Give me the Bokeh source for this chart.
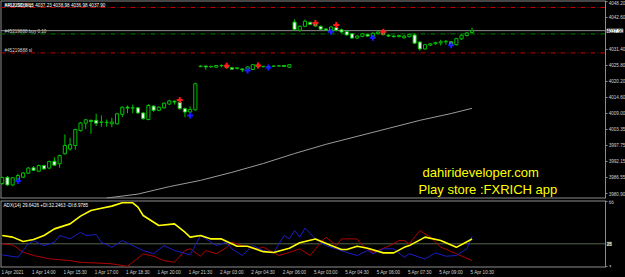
from bokeh.plotting import figure
from bokeh.models import (Range1d, FixedTicker, Label, ColumnDataSource,
                          PrintfTickFormatter, LinearAxis)
from bokeh.layouts import column
from bokeh.embed import file_html
from bokeh.resources import INLINE

# ---------------- data (M15 candles, index 0..90) ----------------
opens = [3984.4, 3986.6, 3983.9, 3985.8, 3986.6, 3988.0, 3989.9, 3988.7, 3990.7, 3989.8,
         3992.2, 3991.3, 3994.8, 3996.5, 3997.7, 4002.9, 4005.5, 4006.5, 4006.5, 4005.8,
         4005.7, 4005.3, 4005.3, 4008.6, 4011.1, 4010.8, 4010.9, 4009.1, 4006.8, 4011.5,
         4010.0, 4010.9, 4012.2, 4013.2, 4012.9, 4010.6, 4009.4, 4010.2,
         4025.3, 4025.5, 4025.2, 4025.1, 4025.6, 4025.8, 4024.9, 4024.6, 4024.5, 4024.4,
         4024.3, 4025.9, 4025.3, 4025.4, 4025.4, 4025.5, 4025.7, 4025.1,
         4040.9, 4038.0, 4039.4, 4040.8, 4040.3, 4039.4, 4038.5, 4038.0, 4039.0, 4038.2,
         4037.6, 4036.8, 4035.3, 4035.9, 4036.6, 4035.9, 4036.8, 4037.2, 4036.3, 4036.0,
         4035.8, 4035.4, 4035.8, 4036.4, 4033.9, 4031.5, 4032.8, 4033.3, 4033.6, 4034.0,
         4034.0, 4033.0, 4035.0, 4036.2, 4037.23]
highs = [3986.8, 3987.0, 3986.7, 3987.8, 3988.4, 3990.2, 3990.5, 3991.0, 3991.0, 3992.4,
         3993.6, 3994.5, 4001.6, 4000.4, 4003.6, 4005.9, 4007.0, 4006.8, 4008.8, 4008.2,
         4006.8, 4007.4, 4009.1, 4011.4, 4011.7, 4012.0, 4011.2, 4009.4, 4012.2, 4011.8,
         4011.4, 4012.8, 4013.7, 4013.5, 4013.2, 4011.0, 4011.4, 4019.7,
         4025.8, 4025.7, 4025.6, 4025.9, 4026.1, 4026.0, 4025.2, 4025.1, 4024.7, 4025.4,
         4026.2, 4026.2, 4025.6, 4025.6, 4025.7, 4025.8, 4025.9, 4026.2,
         4041.8, 4039.7, 4041.8, 4041.1, 4041.5, 4039.7, 4038.8, 4039.5, 4039.3, 4038.6,
         4037.9, 4037.1, 4036.3, 4037.1, 4036.9, 4037.3, 4037.7, 4037.5, 4036.6, 4036.3,
         4036.5, 4036.3, 4036.9, 4036.8, 4034.2, 4033.3, 4033.6, 4034.0, 4034.7, 4034.6,
         4034.3, 4035.4, 4036.6, 4037.4, 4038.98]
lows = [3984.0, 3983.6, 3983.5, 3985.3, 3986.3, 3987.7, 3988.8, 3988.4, 3989.2, 3989.4,
        3990.5, 3989.9, 3994.5, 3995.9, 3996.2, 4002.6, 4003.5, 4001.8, 4004.5, 4004.3,
        4004.3, 4004.1, 4005.0, 4007.6, 4009.0, 4009.0, 4008.8, 4006.7, 4006.5, 4009.5,
        4009.7, 4010.6, 4011.9, 4012.0, 4010.2, 4007.6, 4009.1, 4009.9,
        4025.1, 4024.2, 4025.0, 4024.9, 4025.1, 4025.2, 4024.2, 4024.4, 4023.4, 4024.2,
        4024.1, 4025.1, 4025.0, 4025.0, 4025.2, 4025.3, 4025.2, 4024.9,
        4038.0, 4037.5, 4039.1, 4039.8, 4039.2, 4038.1, 4037.8, 4037.8, 4037.7, 4037.1,
        4036.1, 4035.0, 4035.0, 4035.6, 4035.7, 4035.5, 4036.5, 4036.2, 4035.7, 4035.5,
        4035.5, 4035.1, 4035.5, 4033.2, 4030.9, 4031.2, 4032.5, 4033.0, 4032.7, 4033.0,
        4032.8, 4032.7, 4034.7, 4035.9, 4036.98]
closes = [3986.5, 3983.9, 3986.4, 3987.2, 3988.1, 3989.8, 3989.0, 3990.7, 3989.5, 3992.1,
          3990.8, 3994.2, 3997.7, 3998.0, 4003.3, 4005.6, 4006.7, 4006.1, 4005.5, 4005.9,
          4005.8, 4005.9, 4008.8, 4011.1, 4010.8, 4010.9, 4009.1, 4007.1, 4011.7, 4010.0,
          4011.1, 4012.5, 4013.3, 4012.9, 4010.6, 4009.4, 4010.3, 4019.3,
          4025.5, 4025.2, 4025.4, 4025.7, 4025.7, 4025.0, 4024.4, 4024.9, 4024.2, 4025.2,
          4026.0, 4025.3, 4025.4, 4025.3, 4025.5, 4025.6, 4025.35, 4026.0,
          4038.3, 4039.4, 4041.2, 4040.1, 4039.5, 4038.4, 4038.1, 4039.2, 4038.0, 4037.4,
          4036.4, 4035.3, 4036.0, 4036.8, 4036.0, 4037.0, 4037.4, 4036.5, 4036.0, 4035.8,
          4036.2, 4036.0, 4036.6, 4033.5, 4031.5, 4033.0, 4033.3, 4033.7, 4034.0, 4034.2,
          4033.1, 4035.1, 4036.3, 4037.1, 4037.90]

# signal arrows (candle index, price)
sell_idx = [34, 43, 49, 60, 64, 73]
sell_price = [4013.6, 4025.6, 4025.7, 4040.6, 4039.9, 4037.5]
buy_idx = [3, 36, 47, 51, 63, 71, 86]
buy_price = [3985.3, 4008.2, 4023.95, 4025.0, 4037.5, 4035.4, 4032.8]

# moving average (read at selected candles)
ma_idx = [20, 26, 32, 38, 44, 50, 56, 62, 68, 74, 80, 86, 90]
ma_val = [3979.3, 3980.7, 3983.3, 3985.5, 3988.3, 3991.4, 3994.9, 3998.1, 4000.9, 4003.7,
          4006.5, 4008.9, 4010.7]

# order levels
tp_price = 4046.0
order_price = 4036.75
sl_price = 4030.1
bid_price = 4037.90

# price axis ticks
price_ticks = [3980.90, 3986.55, 3992.15, 3997.75, 4003.35, 4009.00, 4014.60,
               4020.20, 4025.80, 4031.40, 4042.60, 4048.20]

# time axis
time_idx = [0, 6, 12, 18, 24, 30, 36, 42, 48, 54, 60, 66, 72, 78, 84, 90]
time_labels = ["1 Apr 2021", "1 Apr 14:00", "1 Apr 15:30", "1 Apr 17:00", "1 Apr 18:30",
               "1 Apr 20:00", "1 Apr 21:30", "2 Apr 03:00", "2 Apr 04:30", "2 Apr 06:00",
               "5 Apr 03:00", "5 Apr 04:30", "5 Apr 06:00", "5 Apr 07:30", "5 Apr 09:00",
               "5 Apr 10:30"]

# ADX(14)
adx_idx = [0, 2, 4, 6, 8, 10, 13, 15, 17, 19, 21, 23, 25, 26, 27, 30, 33, 35, 36, 38,
           40, 42, 45, 47, 50, 52, 55, 57, 60, 63, 65, 66, 68, 70, 73, 75, 77, 78, 81, 84,
           87, 90]
adx_val = [33.0, 31.4, 27.2, 29.1, 33.0, 39.3, 44.1, 51.5, 56.9, 59.1, 61.1, 64.3, 64.3,
           60.1, 52.1, 42.5, 44.1, 36.1, 31.4, 33.0, 29.7, 29.7, 22.7, 22.7, 17.5, 16.7,
           20.8, 26.0, 29.7, 23.3, 19.5, 19.5, 22.7, 20.8, 16.3, 16.3, 21.6, 23.3, 31.4,
           28.1, 21.6, 29.6]
pdi_idx = [0, 3, 5, 6, 8, 10, 11, 13, 15, 16, 18, 19, 21, 23, 25, 27, 29, 31, 33, 36,
           38, 41, 43, 44, 46, 48, 50, 52, 54, 55, 56, 57, 58, 60, 62, 64, 66, 68, 70, 71,
           73, 75, 77, 78, 81, 83, 85, 87, 89, 90]
pdi_val = [14.4, 12.1, 24.9, 28.1, 23.3, 26.5, 33.0, 29.7, 36.1, 33.0, 33.8, 26.5, 21.6,
           28.1, 23.3, 18.6, 15.5, 23.3, 18.6, 14.4, 33.0, 23.3, 26.5, 20.2, 13.8, 23.3,
           18.6, 16.7, 33.0, 29.7, 37.7, 31.4, 40.0, 29.7, 23.3, 20.2, 16.7, 13.8, 18.6,
           15.5, 20.2, 20.2, 12.1, 15.5, 10.4, 16.3, 13.1, 13.8, 20.2, 32.2]
mdi_idx = [0, 2, 4, 6, 9, 13, 15, 18, 21, 24, 25, 27, 29, 31, 33, 35, 36, 38, 39, 41,
           43, 44, 46, 49, 50, 53, 55, 57, 59, 61, 62, 64, 65, 68, 69, 71, 74, 76, 77, 78,
           80, 82, 84, 87, 90]
mdi_val = [24.9, 24.0, 17.0, 13.8, 10.6, 8.9, 7.3, 6.6, 5.8, 3.5, 7.3, 15.4, 13.1, 8.9,
           7.3, 18.6, 20.2, 13.1, 18.6, 15.5, 21.6, 26.4, 23.3, 20.2, 21.8, 13.8, 16.7,
           20.2, 13.8, 26.4, 31.4, 23.3, 29.7, 29.7, 23.3, 16.7, 22.7, 28.1, 28.1, 24.9,
           37.7, 31.4, 21.8, 15.5, 9.0]
adx_level = 25
adx_ticks = [66, 3]

# ---------------- styling / layout constants ----------------
BG = "#000000"
GREEN = "#00c000"
FRAME = "#8c8c8c"
SMALL = "4.6px"
FONT = "Liberation Sans"
X0 = -0.33          # left edge of the frames (index units)
AXIS_X = 115.6      # where the price scale sits (index units)

x_range = Range1d(X0, 119.4)


def style_axis(ax):
    ax.axis_line_color = FRAME
    ax.major_tick_line_color = FRAME
    ax.major_tick_out = 2
    ax.major_tick_in = 0
    ax.minor_tick_line_color = None
    ax.major_label_standoff = 1
    ax.major_label_text_font_size = SMALL
    ax.major_label_text_font = FONT
    ax.major_label_text_color = "#d0d0d0"


# ---------------- price panel ----------------
y_lo, y_hi = 3979.15, 4048.45
p = figure(width=625, height=199, x_range=x_range, y_range=Range1d(y_lo, y_hi),
           output_backend="svg", toolbar_location=None, x_axis_location=None,
           y_axis_location=None, background_fill_color=BG, border_fill_color=BG,
           min_border_left=0, min_border_top=0, min_border_bottom=1, min_border_right=0)
p.grid.visible = False
p.outline_line_color = None

ya = LinearAxis(fixed_location=AXIS_X, ticker=FixedTicker(ticks=price_ticks),
                formatter=PrintfTickFormatter(format="%.2f"))
style_axis(ya)
p.add_layout(ya, "right")

# frame border (top, bottom, left)
p.segment(x0=[X0, X0, X0], y0=[y_hi, y_lo, y_lo], x1=[AXIS_X, AXIS_X, X0],
          y1=[y_hi, y_lo, y_hi], line_color=FRAME, line_width=2)

# order lines
p.segment(x0=[X0, X0], y0=[tp_price, sl_price], x1=[AXIS_X, AXIS_X],
          y1=[tp_price, sl_price], line_color="#c00000", line_dash="5 2 1 2", line_width=1)
p.segment(x0=[X0], y0=[order_price], x1=[AXIS_X], y1=[order_price],
          line_color="#008000", line_dash="5 2 1 2", line_width=1)
p.segment(x0=[X0], y0=[bid_price], x1=[AXIS_X], y1=[bid_price],
          line_color="#8c8c8c", line_width=1)

# moving average
p.line(ma_idx, ma_val, line_color="#9a9a9a", line_width=1)

# candles
idx = list(range(len(opens)))
src = ColumnDataSource(dict(
    i=idx, o=opens, h=highs, l=lows, c=closes,
    top=[max(o, c) for o, c in zip(opens, closes)],
    bot=[min(o, c) for o, c in zip(opens, closes)],
    fill=["#000000" if c >= o else "#ffffff" for o, c in zip(opens, closes)],
))
p.segment(x0="i", y0="l", x1="i", y1="h", source=src, line_color=GREEN, line_width=1)
p.vbar(x="i", width=0.6, top="top", bottom="bot", fill_color="fill",
       line_color=GREEN, line_width=1, source=src)

# arrows
p.scatter(sell_idx, sell_price, marker="cross", size=6, line_width=2, line_color="#ff1a1a")
p.scatter(buy_idx, buy_price, marker="cross", size=6, line_width=2, line_color="#1a1aff")

# texts
p.add_layout(Label(x=4, y=tp_price, x_units="screen", text="#45219888 tp",
                   text_font_size=SMALL, text_font=FONT, text_color="#d0d0d0",
                   text_baseline="bottom"))
p.add_layout(Label(x=4, y=196, x_units="screen", y_units="screen",
                   text="XAUUSD,M15  4037.23 4038.98 4036.98 4037.90",
                   text_font_size=SMALL, text_font=FONT, text_color="#ffffff",
                   text_baseline="top"))
p.add_layout(Label(x=4, y=order_price, x_units="screen", text="#45219888 buy 0.10",
                   text_font_size=SMALL, text_font=FONT, text_color="#d0d0d0",
                   text_baseline="bottom"))
p.add_layout(Label(x=4, y=sl_price, x_units="screen", text="#45219888 sl",
                   text_font_size=SMALL, text_font=FONT, text_color="#d0d0d0",
                   text_baseline="bottom"))
p.add_layout(Label(x=AXIS_X, y=bid_price, x_offset=1, text="%.2f" % bid_price,
                   text_font_size=SMALL, text_font=FONT, text_color="#000000",
                   text_baseline="middle", background_fill_color="#ffffff"))
p.add_layout(Label(x=422, y=26, x_units="screen", y_units="screen",
                   text="dahirideveloper.com", text_font_size="13px", text_font=FONT,
                   text_color="#ffff00", text_baseline="middle"))
p.add_layout(Label(x=418, y=9, x_units="screen", y_units="screen",
                   text="Play store :FXRICH app", text_font_size="13px", text_font=FONT,
                   text_color="#ffff00", text_baseline="middle"))

# ---------------- ADX panel ----------------
a_lo, a_hi = 2.3, 66.5
q = figure(width=625, height=78, x_range=x_range, y_range=Range1d(a_lo, a_hi),
           output_backend="svg", toolbar_location=None, y_axis_location=None,
           background_fill_color=BG, border_fill_color=BG,
           min_border_left=0, min_border_top=1, min_border_bottom=10, min_border_right=0)
q.grid.visible = False
q.outline_line_color = None
xa = q.xaxis[0]
xa.ticker = FixedTicker(ticks=[t + 2 for t in time_idx])
xa.major_label_overrides = {t + 2: lab for t, lab in zip(time_idx, time_labels)}
style_axis(xa)
xa.axis_line_color = None
xa.major_tick_out = 0
xa.major_label_standoff = 2

qa = LinearAxis(fixed_location=AXIS_X, ticker=FixedTicker(ticks=adx_ticks))
style_axis(qa)
q.add_layout(qa, "right")

q.segment(x0=[X0, X0, X0], y0=[a_hi, a_lo, a_lo], x1=[AXIS_X, AXIS_X, X0],
          y1=[a_hi, a_lo, a_hi], line_color=FRAME, line_width=2)
q.segment(x0=[X0], y0=[adx_level], x1=[AXIS_X], y1=[adx_level],
          line_color="#56664c", line_width=1)
q.line(mdi_idx, mdi_val, line_color="#b00000", line_width=1)
q.line(pdi_idx, pdi_val, line_color="#1c1cc8", line_width=1)
q.line(adx_idx, adx_val, line_color="#ffff00", line_width=1.6)

q.add_layout(Label(x=3, y=65, x_units="screen", y_units="screen",
                   text="ADX(14) 29.6426 +DI:32.2463 -DI:8.9785",
                   text_font_size=SMALL, text_font=FONT, text_color="#ffffff",
                   text_baseline="top"))
q.add_layout(Label(x=AXIS_X, y=adx_level, x_offset=1, text=str(adx_level),
                   text_font_size=SMALL, text_font=FONT, text_color="#ffffff",
                   text_baseline="middle", background_fill_color="#56664c"))

layout = column(p, q, spacing=0, styles={"background-color": "#000000"})
open("out.html", "w").write(file_html(layout, INLINE))
